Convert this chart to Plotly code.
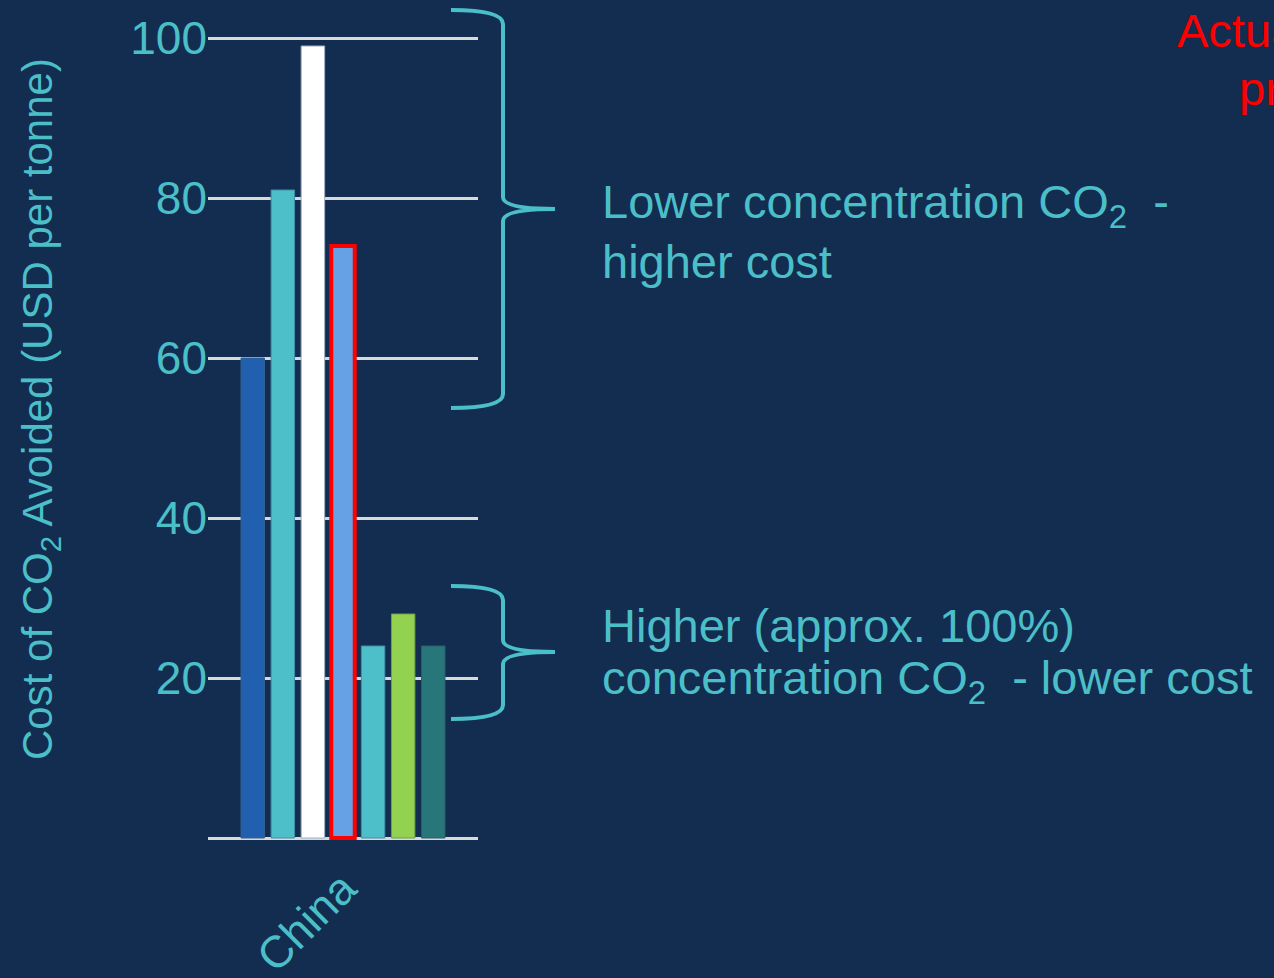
import plotly.graph_objects as go

# Cost of CO2 avoided for capture sources in China (USD per tonne)
categories = ["China"]
series_names = [
    "Low-concentration source A",
    "Low-concentration source B",
    "Low-concentration source C",
    "Low-concentration source D",
    "High-concentration source A",
    "High-concentration source B",
    "High-concentration source C",
]
series_values = [60, 81, 99, 74, 24, 28, 24]
tick_values = [20, 40, 60, 80, 100]
tick_labels = ["20", "40", "60", "80", "100"]

bar_colors = ["#2160ae", "#4dbfc8", "#ffffff", "#67a1e5", "#4dbfc8", "#93d150", "#27777a"]
edge_colors = ["#35608f", "#3f8fa5", "#9fb0c8", "#ff0000", "#3f8fa5", "#6f9f45", "#2a5f6a"]
edge_widths = [1, 1, 1, 4, 1, 1, 1]

BG = "#132d51"
TEAL = "#4bbfc8"
GRID = "#d9d9d9"
FONT = "Liberation Sans, Arial, sans-serif"

W, H = 1274, 978
ML, MR, MT, MB = 208, 796, 36, 138
PW, PH = W - ML - MR, H - MT - MB


def px_x(px):
    return (px - ML) / PW


def px_y(py):
    return (H - MB - py) / PH


def brace_path(x_arm, x_mid, x_tip, y_top, y_tip, y_bot, r=14):
    pts = [
        ("M", [(x_arm, y_top)]),
        ("Q", [(x_mid, y_top), (x_mid, y_top + r)]),
        ("L", [(x_mid, y_tip - r + 2)]),
        ("Q", [(x_mid, y_tip), (x_tip, y_tip)]),
        ("Q", [(x_mid, y_tip), (x_mid, y_tip + r - 2)]),
        ("L", [(x_mid, y_bot - r)]),
        ("Q", [(x_mid, y_bot), (x_arm, y_bot)]),
    ]
    out = []
    for cmd, coords in pts:
        out.append(cmd + " ".join(f"{px_x(a):.5f},{px_y(b):.5f}" for a, b in coords))
    return " ".join(out)


fig = go.Figure()
for name, val, col, ec, ew in zip(series_names, series_values, bar_colors, edge_colors, edge_widths):
    fig.add_trace(go.Bar(
        x=categories, y=[val], name=name,
        marker=dict(color=col, line=dict(color=ec, width=ew)),
        showlegend=False,
    ))

fig.update_layout(
    width=W, height=H,
    margin=dict(l=ML, r=MR, t=MT, b=MB),
    paper_bgcolor=BG, plot_bgcolor=BG,
    barmode="group", bargap=0.22, bargroupgap=0.22,
    showlegend=False,
    xaxis=dict(
        automargin=False,
        showgrid=False, showline=False, zeroline=False,
        tickangle=-45, ticks="", ticklabelstandoff=12,
        tickfont=dict(family=FONT, size=45, color=TEAL),
    ),
    yaxis=dict(
        automargin=False,
        range=[-0.25, 100.25],
        tickvals=tick_values, ticktext=tick_labels,
        showgrid=True, gridcolor=GRID, gridwidth=3,
        zeroline=True, zerolinecolor=GRID, zerolinewidth=3,
        showline=False, ticks="", ticklabelstandoff=0,
        tickfont=dict(family=FONT, size=46, color=TEAL),
    ),
)

# Axis title placed beside the value axis
fig.add_annotation(
    text="Cost of CO<sub>2</sub> Avoided (USD per tonne)",
    xref="paper", yref="paper", x=px_x(40), y=px_y(409),
    xanchor="center", yanchor="middle", textangle=-90, showarrow=False,
    font=dict(family=FONT, size=42, color=TEAL),
)

# Brackets grouping the bars by CO2 concentration
for top, tip, bot in [(10, 209, 408), (586, 652, 719)]:
    fig.add_shape(
        type="path", xref="paper", yref="paper",
        path=brace_path(451, 503, 555, top, tip, bot),
        line=dict(color=TEAL, width=4),
    )

text_lines = [
    ("Lower concentration CO<sub>2</sub>\u00a0\u00a0-", 600, 205, TEAL),
    ("higher cost", 600, 261, TEAL),
    ("Higher (approx. 100%)", 600, 625, TEAL),
    ("concentration CO<sub>2</sub>\u00a0\u00a0- lower cost", 600, 681, TEAL),
    ("Actual", 1175, 31, "#ff0000"),
    ("project", 1237, 88, "#ff0000"),
]
for txt, x0, yc, col in text_lines:
    fig.add_annotation(
        text=txt, xref="paper", yref="paper", x=px_x(x0), y=px_y(yc),
        xanchor="left", yanchor="middle", showarrow=False,
        font=dict(family=FONT, size=47, color=col),
    )

fig.write_html("out.html")
